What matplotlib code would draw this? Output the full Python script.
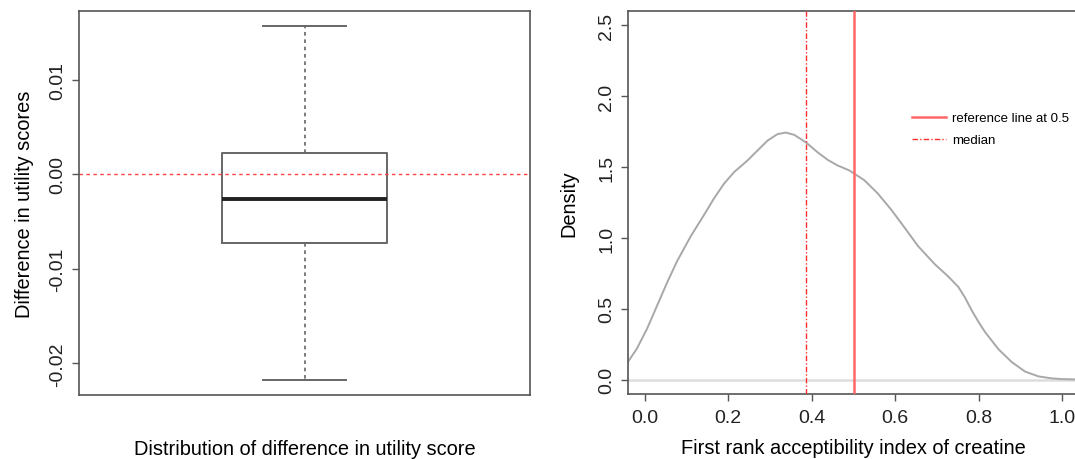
"""Boxplot of utility score differences and density of first rank acceptability index."""

import matplotlib
matplotlib.use("Agg")
import matplotlib.pyplot as plt

plt.rcParams["font.family"] = ["Liberation Sans", "DejaVu Sans"]

# left panel: boxplot summary of the difference in utility scores
box_whislo = -0.02178
box_q1 = -0.00729
box_med = -0.00264
box_q3 = 0.00229
box_whishi = 0.01575
left_yticks = [-0.02, -0.01, 0.00, 0.01]
left_yticklabels = ["-0.02", "-0.01", "0.00", "0.01"]

# right panel: density curve
dens_x = [-0.0425, -0.0185, 0.0056, 0.0297, 0.0537, 0.0777, 0.110, 0.142, 0.166,
          0.190, 0.214, 0.246, 0.270, 0.294, 0.318, 0.338, 0.358, 0.386, 0.414,
          0.438, 0.462, 0.490, 0.526, 0.558, 0.591, 0.623, 0.655, 0.695, 0.727,
          0.751, 0.767, 0.783, 0.799, 0.815, 0.847, 0.879, 0.911, 0.943, 0.975,
          1.000, 1.031, 1.06]
dens_y = [0.116, 0.221, 0.360, 0.523, 0.686, 0.837, 1.011, 1.162, 1.279,
          1.383, 1.464, 1.546, 1.616, 1.686, 1.732, 1.743, 1.727, 1.674, 1.604,
          1.551, 1.511, 1.476, 1.407, 1.314, 1.197, 1.070, 0.941, 0.814, 0.728,
          0.655, 0.580, 0.490, 0.410, 0.337, 0.216, 0.125, 0.058, 0.024, 0.010,
          0.005, 0.003, 0.002]
median_value = 0.387
reference_value = 0.5
right_xticks = [0.0, 0.2, 0.4, 0.6, 0.8, 1.0]
right_yticks = [0.0, 0.5, 1.0, 1.5, 2.0, 2.5]

W, H = 1075, 460
fig = plt.figure(figsize=(W / 100, H / 100), dpi=100)

frame_col = "#555555"


def px_axes(x0, x1, y0, y1):
    return fig.add_axes([x0 / W, 1 - y1 / H, (x1 - x0) / W, (y1 - y0) / H])


def style(ax):
    for s in ax.spines.values():
        s.set_color(frame_col)
        s.set_linewidth(1.2)
    ax.tick_params(direction="out", length=5, width=1.0, color=frame_col,
                   labelsize=14, labelcolor="#222222")


# ---- left: boxplot
ax1 = px_axes(79, 530, 12, 396)
style(ax1)
stats = [{"whislo": box_whislo, "q1": box_q1, "med": box_med,
          "q3": box_q3, "whishi": box_whishi, "fliers": []}]
ax1.bxp(stats, positions=[1], widths=0.368, capwidths=0.184, showfliers=False,
        boxprops=dict(color="#666666", linewidth=1.4),
        medianprops=dict(color="#222222", linewidth=2.8),
        whiskerprops=dict(color="#666666", linewidth=1.2, linestyle=(0, (2.2, 2.2))),
        capprops=dict(color="#666666", linewidth=1.4))
ax1.axhline(0, color="#ff4040", linewidth=1.0, linestyle=(0, (2.5, 2.5)))
ax1.set_xlim(0.5, 1.5)
ax1.set_ylim(-0.02336, 0.0173)
ax1.set_xticks([])
ax1.set_yticks(left_yticks)
ax1.set_yticklabels(left_yticklabels, rotation=90, va="center")
ax1.tick_params(axis="y", pad=4)
ax1.set_ylabel("Difference in utility scores", fontsize=14.4)
ax1.yaxis.set_label_coords(-0.1, 0.5)
ax1.set_xlabel("Distribution of difference in utility score", fontsize=14.4)
ax1.xaxis.set_label_coords(0.5, -0.115)

# ---- right: density
ax2 = px_axes(628, 1079, 12, 395)
style(ax2)
ax2.axhline(0, color="#dddddd", linewidth=1.8, zorder=1)
ax2.plot(dens_x, dens_y, color="#a8a8a8", linewidth=1.4, zorder=2)
ax2.axvline(reference_value, color="#ff6868", linewidth=1.8,
            label="reference line at 0.5", zorder=3)
ax2.axvline(median_value, color="#ff3030", linewidth=1.0,
            linestyle=(0, (4, 1.5, 1, 1.5)), label="median", zorder=3)
ax2.set_xlim(-0.04, 1.04)
ax2.set_ylim(-0.1, 2.6)
ax2.set_xticks(right_xticks)
ax2.set_xticklabels([f"{v:.1f}" for v in right_xticks])
ax2.set_yticks(right_yticks)
ax2.set_yticklabels([f"{v:.1f}" for v in right_yticks], rotation=90, va="center")
ax2.tick_params(axis="y", pad=4)
ax2.tick_params(axis="x", pad=6)
ax2.set_ylabel("Density", fontsize=14.4)
ax2.yaxis.set_label_coords(-0.11, 0.5)
ax2.set_xlabel("First rank acceptibility index of creatine", fontsize=14.4)
ax2.xaxis.set_label_coords(0.5, -0.115)
ax2.legend(loc="upper left", bbox_to_anchor=(0.618, 0.75), frameon=False,
           fontsize=9.5, handlelength=2.6, handletextpad=0.45, labelspacing=0.75,
           borderaxespad=0)

fig.savefig("out.png", dpi=100)
